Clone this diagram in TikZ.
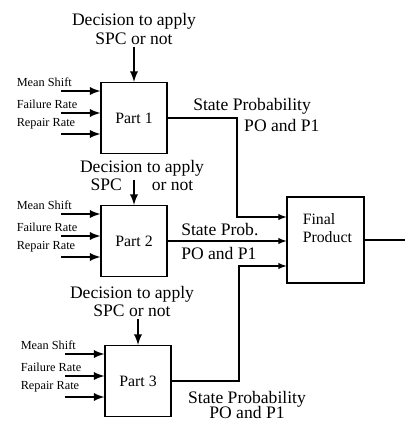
\documentclass[tikz,border=0pt]{standalone}
\usepackage{fontspec}
\setmainfont{Liberation Serif}
\usetikzlibrary{positioning}
\newcommand{\pxUnit}[0]{0.02cm}
\newcommand{\inputSize}[0]{\fontsize{7}{8}\selectfont}
\newcommand{\partSize}[0]{\fontsize{9}{10}\selectfont}
\newcommand{\boldWidth}[0]{1.1pt}

\begin{document}
\begin{tikzpicture}[x=\pxUnit, y=-\pxUnit, >=latex, line width=0.6pt]
  \tikzset{every node/.style={inner sep=1pt},
    partbox/.style={draw, minimum width=1.32cm, minimum height=1.42cm, font=\partSize},
    inputArrow/.style={->, line width=\boldWidth}}
  \useasboundingbox (0,0) rectangle (405,425);
  % the three parts with their inputs
  \foreach \p/\cx/\cy in {1/134/118, 2/134/241, 3/138/381} {
    \node[partbox] (part-\p) at (\cx,\cy) {Part \p};
    \foreach \k/\dy/\lbl in {1/0.54cm/Mean Shift, 2/0.1cm/Failure Rate, 3/-0.32cm/Repair Rate} {
      \coordinate (in-\p-\k) at ([xshift=-0.78cm, yshift=\dy]part-\p.west);
      \node[font=\inputSize, anchor=south west] (lbl-\p-\k) at ([xshift=-0.94cm, yshift=0.05cm]in-\p-\k) {\lbl};
      \draw[inputArrow] (in-\p-\k) -- (in-\p-\k -| part-\p.west);
    }
  }
  % decisions
  \node[align=center, above=0.7cm of part-1] (decision-1) {Decision to apply\\[-1pt]SPC or not};
  \node[align=center, above=0.24cm of part-2, xshift=0.16cm] (decision-2) {Decision to apply\\[-2pt]SPC\hspace{1.7em}or not};
  \node[align=center, above=0.52cm of part-3, xshift=-0.12cm] (decision-3) {Decision to apply\\[-2pt]SPC or not};
  \draw[inputArrow] (part-1.north |- decision-1.south) -- (part-1.north);
  \draw[inputArrow] ([yshift=0.26cm]part-2.north |- decision-2.south) -- (part-2.north);
  \draw[inputArrow] (part-3.north |- decision-3.south) -- (part-3.north);
  % final product
  \node[draw, minimum width=1.54cm, minimum height=1.72cm] (final) at (325.5,240) {};
  \node[align=left, font=\partSize, below right=0.3cm and 0.28cm of final.north west] (final-label) {Final\\Product};
  \coordinate (bend-1) at (237,217);
  \coordinate (bend-3) at (239,266);
  \coordinate (out) at (405,240);
  \draw[->] (part-1.east) -| (bend-1) -- (final.west |- bend-1);
  \draw[->] (part-2.east) -- (final.west |- part-2.east);
  \draw[->] (part-3.east) -| (bend-3) -- (final.west |- bend-3);
  \draw (final.east) -- (out);
  % state probabilities
  \node[align=left, anchor=north west] (prob-1) at (191,96) {State Probability\\\hspace*{2.9em}PO and P1};
  \node[align=left, anchor=west] (prob-2) at (179,241.5) {State Prob.\\[2pt]PO and P1};
  \node[align=center] (prob-3) at (247,405) {State Probability\\[-3pt]PO and P1};
\end{tikzpicture}
\end{document}
